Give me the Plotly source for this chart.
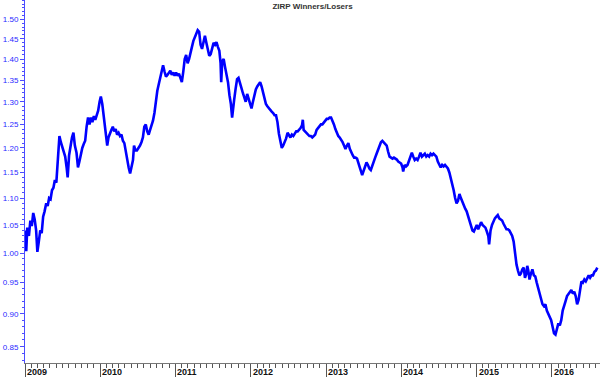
import numpy as np
import plotly.graph_objects as go

title_text = "ZIRP Winners/Losers"

dates = [
"2009-01-02","2009-01-07","2009-01-12","2009-01-20","2009-01-27","2009-02-03","2009-02-10","2009-02-17","2009-02-24",
"2009-03-02","2009-03-09","2009-03-16","2009-03-23","2009-03-30","2009-04-06","2009-04-14","2009-04-21","2009-04-28",
"2009-05-05","2009-05-12","2009-05-19","2009-05-26","2009-06-02","2009-06-08","2009-06-12","2009-06-17","2009-06-24",
"2009-07-01","2009-07-08","2009-07-15","2009-07-22","2009-07-27","2009-08-03","2009-08-10","2009-08-17","2009-08-24",
"2009-08-31","2009-09-08","2009-09-15","2009-09-22","2009-09-29","2009-10-06","2009-10-13","2009-10-20","2009-10-27",
"2009-11-03","2009-11-10","2009-11-17","2009-11-24","2009-12-01","2009-12-08","2009-12-15","2009-12-22","2009-12-29",
"2010-01-04","2010-01-11","2010-01-15","2010-01-22","2010-01-29","2010-02-04","2010-02-10","2010-02-17","2010-02-24",
"2010-03-03","2010-03-10","2010-03-17","2010-03-24","2010-03-31","2010-04-07","2010-04-14","2010-04-21","2010-04-28",
"2010-05-05","2010-05-12","2010-05-19","2010-05-26","2010-06-02","2010-06-09","2010-06-14","2010-06-21","2010-06-28",
"2010-07-06","2010-07-13","2010-07-20","2010-07-27","2010-08-03","2010-08-10","2010-08-17","2010-08-24","2010-08-31",
"2010-09-07","2010-09-14","2010-09-21","2010-09-28","2010-10-05","2010-10-12","2010-10-19","2010-10-26","2010-11-02",
"2010-11-09","2010-11-16","2010-11-23","2010-11-30","2010-12-07","2010-12-14","2010-12-21","2010-12-28",
"2011-01-04","2011-01-11","2011-01-18","2011-01-25","2011-02-01","2011-02-08","2011-02-15","2011-02-22","2011-03-01",
"2011-03-08","2011-03-15","2011-03-22","2011-03-29","2011-04-05","2011-04-12","2011-04-19","2011-04-26","2011-05-03",
"2011-05-10","2011-05-17","2011-05-24","2011-05-31","2011-06-07","2011-06-14","2011-06-21","2011-06-28","2011-07-05",
"2011-07-12","2011-07-19","2011-07-26","2011-08-02","2011-08-08","2011-08-11","2011-08-16","2011-08-23","2011-08-30",
"2011-09-06","2011-09-13","2011-09-20","2011-09-27","2011-10-03","2011-10-07","2011-10-13","2011-10-20","2011-10-27",
"2011-11-03","2011-11-10","2011-11-17","2011-11-24","2011-12-01","2011-12-08","2011-12-15","2011-12-22","2011-12-29",
"2012-01-05","2012-01-12","2012-01-19","2012-01-26","2012-02-02","2012-02-09","2012-02-16","2012-02-23","2012-03-01",
"2012-03-08","2012-03-15","2012-03-22","2012-03-29","2012-04-05","2012-04-12","2012-04-19","2012-04-26","2012-05-03",
"2012-05-10","2012-05-17","2012-05-24","2012-05-31","2012-06-07","2012-06-14","2012-06-21","2012-06-28","2012-07-05",
"2012-07-12","2012-07-19","2012-07-26","2012-08-02","2012-08-09","2012-08-16","2012-08-23","2012-08-30","2012-09-06",
"2012-09-10","2012-09-14","2012-09-21","2012-09-28","2012-10-05","2012-10-12","2012-10-19","2012-10-26","2012-11-02",
"2012-11-09","2012-11-16","2012-11-23","2012-11-30","2012-12-07","2012-12-14","2012-12-21","2012-12-28",
"2013-01-04","2013-01-11","2013-01-18","2013-01-25","2013-02-01","2013-02-08","2013-02-15","2013-02-22","2013-03-01",
"2013-03-08","2013-03-15","2013-03-22","2013-03-29","2013-04-05","2013-04-12","2013-04-19","2013-04-26","2013-05-03",
"2013-05-10","2013-05-17","2013-05-24","2013-05-31","2013-06-07","2013-06-14","2013-06-21","2013-06-25","2013-07-02",
"2013-07-09","2013-07-16","2013-07-23","2013-07-30","2013-08-06","2013-08-13","2013-08-20","2013-08-27","2013-09-03",
"2013-09-10","2013-09-17","2013-09-24","2013-10-01","2013-10-08","2013-10-15","2013-10-22","2013-10-29","2013-11-05",
"2013-11-12","2013-11-19","2013-11-26","2013-12-03","2013-12-10","2013-12-17","2013-12-24","2013-12-31",
"2014-01-07","2014-01-10","2014-01-17","2014-01-24","2014-01-31","2014-02-07","2014-02-14","2014-02-21","2014-02-28",
"2014-03-07","2014-03-14","2014-03-21","2014-03-28","2014-04-04","2014-04-11","2014-04-18","2014-04-25","2014-05-02",
"2014-05-09","2014-05-16","2014-05-23","2014-05-30","2014-06-06","2014-06-13","2014-06-20","2014-06-27","2014-07-04",
"2014-07-11","2014-07-18","2014-07-25","2014-08-01","2014-08-08","2014-08-15","2014-08-22","2014-08-29","2014-09-05",
"2014-09-12","2014-09-19","2014-09-26","2014-10-03","2014-10-10","2014-10-17","2014-10-24","2014-10-31","2014-11-07",
"2014-11-14","2014-11-21","2014-11-28","2014-12-05","2014-12-12","2014-12-19","2014-12-26",
"2015-01-02","2015-01-09","2015-01-16","2015-01-23","2015-01-30","2015-02-06","2015-02-13","2015-02-20","2015-02-27",
"2015-03-03","2015-03-10","2015-03-17","2015-03-24","2015-03-31","2015-04-07","2015-04-14","2015-04-21","2015-04-28",
"2015-05-05","2015-05-12","2015-05-19","2015-05-26","2015-06-02","2015-06-09","2015-06-16","2015-06-23","2015-06-30",
"2015-07-07","2015-07-14","2015-07-21","2015-07-28","2015-08-04","2015-08-11","2015-08-18","2015-08-24","2015-08-31",
"2015-09-04","2015-09-09","2015-09-15","2015-09-22","2015-09-29","2015-10-06","2015-10-13","2015-10-20","2015-10-27",
"2015-11-03","2015-11-10","2015-11-17","2015-11-24","2015-12-01","2015-12-08","2015-12-15","2015-12-22","2015-12-29",
"2016-01-05","2016-01-12","2016-01-19","2016-01-26","2016-02-02","2016-02-09","2016-02-16","2016-02-23","2016-03-01",
"2016-03-08","2016-03-15","2016-03-22","2016-03-29","2016-04-05","2016-04-12","2016-04-19","2016-04-26","2016-05-03",
"2016-05-10","2016-05-17","2016-05-24","2016-05-31","2016-06-07","2016-06-14","2016-06-21","2016-06-28","2016-07-05",
"2016-07-12","2016-07-19","2016-07-26","2016-08-02","2016-08-09",
]

values = [
1.040,1.003,1.045,1.030,1.058,1.048,1.072,1.060,1.040,
1.002,1.020,1.040,1.035,1.065,1.075,1.090,1.085,1.100,
1.098,1.115,1.120,1.135,1.130,1.170,1.205,1.225,1.212,
1.200,1.188,1.182,1.160,1.140,1.185,1.210,1.222,1.232,
1.205,1.190,1.160,1.172,1.188,1.200,1.208,1.215,1.245,
1.265,1.250,1.265,1.255,1.268,1.260,1.272,1.280,1.300,
1.312,1.295,1.280,1.245,1.225,1.205,1.222,1.232,1.238,
1.245,1.235,1.240,1.228,1.232,1.225,1.228,1.215,1.210,
1.190,1.170,1.160,1.148,1.160,1.175,1.205,1.195,1.195,
1.200,1.205,1.212,1.222,1.245,1.250,1.235,1.228,1.238,
1.248,1.258,1.275,1.305,1.325,1.340,1.355,1.375,1.385,
1.370,1.358,1.362,1.368,1.372,1.362,1.368,1.360,
1.368,1.360,1.365,1.355,1.345,1.370,1.400,1.410,1.390,
1.400,1.420,1.430,1.445,1.455,1.465,1.472,1.468,1.435,
1.425,1.445,1.458,1.440,1.420,1.408,1.412,1.430,1.440,
1.435,1.442,1.430,1.420,1.390,1.345,1.395,1.400,1.380,
1.365,1.345,1.315,1.295,1.265,1.285,1.305,1.330,1.352,
1.355,1.340,1.332,1.320,1.310,1.300,1.318,1.305,1.295,
1.285,1.300,1.318,1.328,1.335,1.340,1.345,1.335,1.320,
1.305,1.295,1.290,1.285,1.280,1.278,1.275,1.270,1.270,
1.255,1.230,1.212,1.200,1.205,1.212,1.220,1.232,1.225,
1.222,1.228,1.225,1.230,1.235,1.235,1.238,1.242,1.248,
1.260,1.238,1.235,1.230,1.228,1.225,1.225,1.222,1.225,
1.228,1.238,1.242,1.245,1.250,1.250,1.255,1.258,
1.262,1.262,1.265,1.265,1.258,1.250,1.240,1.232,1.225,
1.222,1.218,1.212,1.205,1.198,1.205,1.210,1.198,1.190,
1.185,1.180,1.180,1.178,1.170,1.160,1.150,1.145,1.155,
1.165,1.170,1.165,1.158,1.155,1.165,1.172,1.180,1.188,
1.195,1.205,1.212,1.215,1.212,1.210,1.205,1.192,1.182,
1.180,1.178,1.180,1.178,1.176,1.172,1.170,1.168,
1.160,1.152,1.165,1.162,1.165,1.175,1.185,1.190,1.182,
1.175,1.178,1.175,1.182,1.190,1.182,1.185,1.188,1.182,
1.185,1.182,1.188,1.185,1.188,1.185,1.182,1.172,1.165,
1.160,1.165,1.162,1.165,1.160,1.158,1.150,1.140,1.128,
1.115,1.100,1.090,1.095,1.108,1.100,1.092,1.085,1.080,
1.075,1.065,1.058,1.045,1.040,1.038,1.045,
1.050,1.042,1.048,1.055,1.050,1.048,1.045,1.038,1.030,
1.015,1.040,1.050,1.058,1.062,1.065,1.068,1.062,1.060,
1.058,1.052,1.048,1.042,1.042,1.040,1.035,1.030,1.020,
0.995,0.980,0.970,0.962,0.965,0.972,0.975,0.958,0.965,
0.978,0.970,0.955,0.965,0.972,0.962,0.960,0.950,0.940,
0.930,0.922,0.915,0.912,0.915,0.905,0.900,0.895,0.890,
0.880,0.870,0.868,0.878,0.885,0.882,0.890,0.905,0.915,
0.920,0.928,0.932,0.935,0.938,0.932,0.935,0.928,0.915,
0.922,0.935,0.952,0.950,0.955,0.952,0.958,0.962,0.958,
0.962,0.962,0.968,0.970,0.975,
]

year_ticks = ["2009-01-01","2010-01-01","2011-01-01","2012-01-01","2013-01-01","2014-01-01","2015-01-01","2016-01-01"]
year_labels = ["2009","2010","2011","2012","2013","2014","2015","2016"]
y_ticks = [0.85,0.90,0.95,1.00,1.05,1.10,1.15,1.20,1.25,1.30,1.35,1.40,1.45,1.50]
y_labels = ["%.2f" % v for v in y_ticks]
y_minor = [round(v, 2) for v in np.arange(0.83, 1.56, 0.01)]

fig = go.Figure()
fig.add_trace(go.Scatter(x=dates, y=values, mode="lines",
                         line=dict(color="#0000ff", width=2.6), showlegend=False))

fig.update_layout(
    width=600, height=377,
    margin=dict(l=25, r=0, t=0, b=14),
    paper_bgcolor="white", plot_bgcolor="white",
    font=dict(family="Liberation Sans, Arial, sans-serif"),
    title=dict(text=title_text, x=0.5, xref="paper", y=1 - 6/377, yref="container",
               xanchor="center", yanchor="middle",
               font=dict(size=8, color="#333333", weight="bold")),
)

# year labels placed to the right of each long year tick
for tv, tl in zip(year_ticks, year_labels):
    fig.add_annotation(x=tv, y=0, xref="x", yref="paper", text=tl, showarrow=False,
                       xanchor="left", yanchor="top", xshift=0, yshift=-2,
                       font=dict(size=9, color="#111111", weight="bold"))

fig.update_xaxes(
    type="date", range=["2009-01-01", "2016-08-22"], automargin=False,
    showgrid=False, zeroline=False,
    showline=True, linecolor="#777777", linewidth=1,
    tickmode="array", tickvals=year_ticks, ticktext=year_labels, showticklabels=False,
    ticks="outside", ticklen=14, tickcolor="#555555", tickwidth=1,
    minor=dict(dtick="M1", ticks="outside", ticklen=4, tickcolor="#555555", tickwidth=1, showgrid=False),
)

fig.update_yaxes(
    type="log", range=[-0.08286, 0.19063], automargin=False,
    showgrid=False, zeroline=False,
    showline=True, linecolor="#4c4cff", linewidth=1,
    tickmode="array", tickvals=y_ticks, ticktext=y_labels,
    ticks="outside", ticklen=4, tickcolor="#4c4cff", tickwidth=1,
    tickfont=dict(size=8, color="#2a2aff"),
    minor=dict(tickvals=y_minor, ticks="outside", ticklen=2, tickcolor="#4c4cff", tickwidth=1, showgrid=False),
)

fig.write_html("out.html", config={"displayModeBar": False},
               post_script="document.body.style.margin='0';document.body.style.overflow='hidden';")
